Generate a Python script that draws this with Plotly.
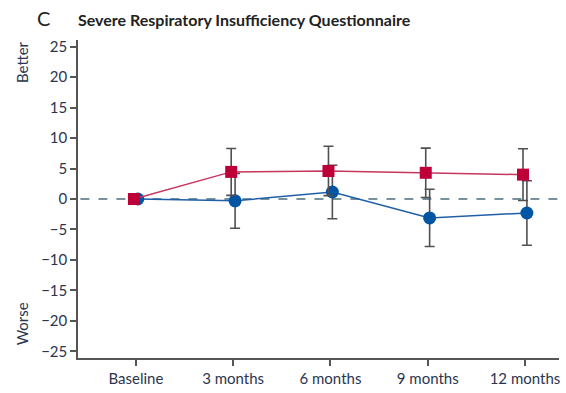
import plotly.graph_objects as go

timepoints = ["Baseline", "3 months", "6 months", "9 months", "12 months"]
x_pos = [0, 1, 2, 3, 4]

red_mean = [0, 4.45, 4.6, 4.3, 4.0]
red_err = [0, 3.85, 4.05, 4.05, 4.25]

blue_mean = [0, -0.3, 1.15, -3.1, -2.3]
blue_err = [0, 4.5, 4.4, 4.7, 5.3]

y_ticks = [25, 20, 15, 10, 5, 0, -5, -10, -15, -20, -25]
y_ticklabels = ["25", "20", "15", "10", "5", "0", "\u22125", "\u221210", "\u221215", "\u221220", "\u221225"]

font_fam = "Lato, Open Sans, sans-serif"

fig = go.Figure()

fig.add_shape(type="line", xref="paper", yref="y", x0=0.005, x1=1, y0=0, y1=0,
              line=dict(color="#4a6f7d", width=1.3, dash="dash"), layer="below")

fig.add_trace(go.Scatter(
    x=[v + 0.02 for v in x_pos], y=blue_mean, mode="lines+markers",
    line=dict(color="#1f5fa8", width=1.5),
    marker=dict(symbol="circle", size=13, color="#0055a4"),
    error_y=dict(type="data", array=blue_err, visible=True, color="#505050", thickness=1.6, width=5),
    showlegend=False,
))
fig.add_trace(go.Scatter(
    x=[v - 0.02 for v in x_pos], y=red_mean, mode="lines+markers",
    line=dict(color="#c8355e", width=1.5),
    marker=dict(symbol="square", size=12, color="#be0039"),
    error_y=dict(type="data", array=red_err, visible=True, color="#505050", thickness=1.6, width=5),
    showlegend=False,
))

fig.update_layout(
    width=566, height=393,
    margin=dict(l=78, r=6, t=40, b=33),
    plot_bgcolor="white", paper_bgcolor="white",
    font=dict(family=font_fam, size=15, color="#333"),
    xaxis=dict(range=[-0.595, 4.35], tickvals=x_pos, ticktext=timepoints,
               showgrid=False, zeroline=False, showline=True, linecolor="#555", linewidth=1.5,
               ticks="outside", ticklen=6, tickwidth=1.5, tickcolor="#555",
               tickfont=dict(size=15, color="#2b3550")),
    yaxis=dict(range=[-26.1, 26.1], tickvals=y_ticks, ticktext=y_ticklabels,
               showgrid=False, zeroline=False, showline=True, linecolor="#555", linewidth=1.5,
               ticks="outside", ticklen=6, tickwidth=1.5, tickcolor="#555",
               tickfont=dict(size=15, color="#2b3550")),
    annotations=[
        dict(text="<b>Severe Respiratory Insufficiency Questionnaire</b>", xref="paper", yref="paper",
             x=(76 - 78) / 482, y=1 + (40 - 19) / 320, xanchor="left", yanchor="middle",
             showarrow=False, font=dict(size=16, color="#222")),
        dict(text="C", xref="paper", yref="paper", x=(35 - 78) / 482, y=1 + (40 - 18) / 320,
             xanchor="left", yanchor="middle", showarrow=False, font=dict(size=20, color="#222")),
        dict(text="Better", xref="paper", yref="paper", x=(22 - 78) / 482, y=1 - (62 - 40) / 320,
             xanchor="center", yanchor="middle", textangle=-90, showarrow=False,
             font=dict(size=15, color="#2b3550")),
        dict(text="Worse", xref="paper", yref="paper", x=(22 - 78) / 482, y=1 - (326 - 40) / 320,
             xanchor="center", yanchor="middle", textangle=-90, showarrow=False,
             font=dict(size=15, color="#2b3550")),
    ],
)

fig.write_html("out.html")
